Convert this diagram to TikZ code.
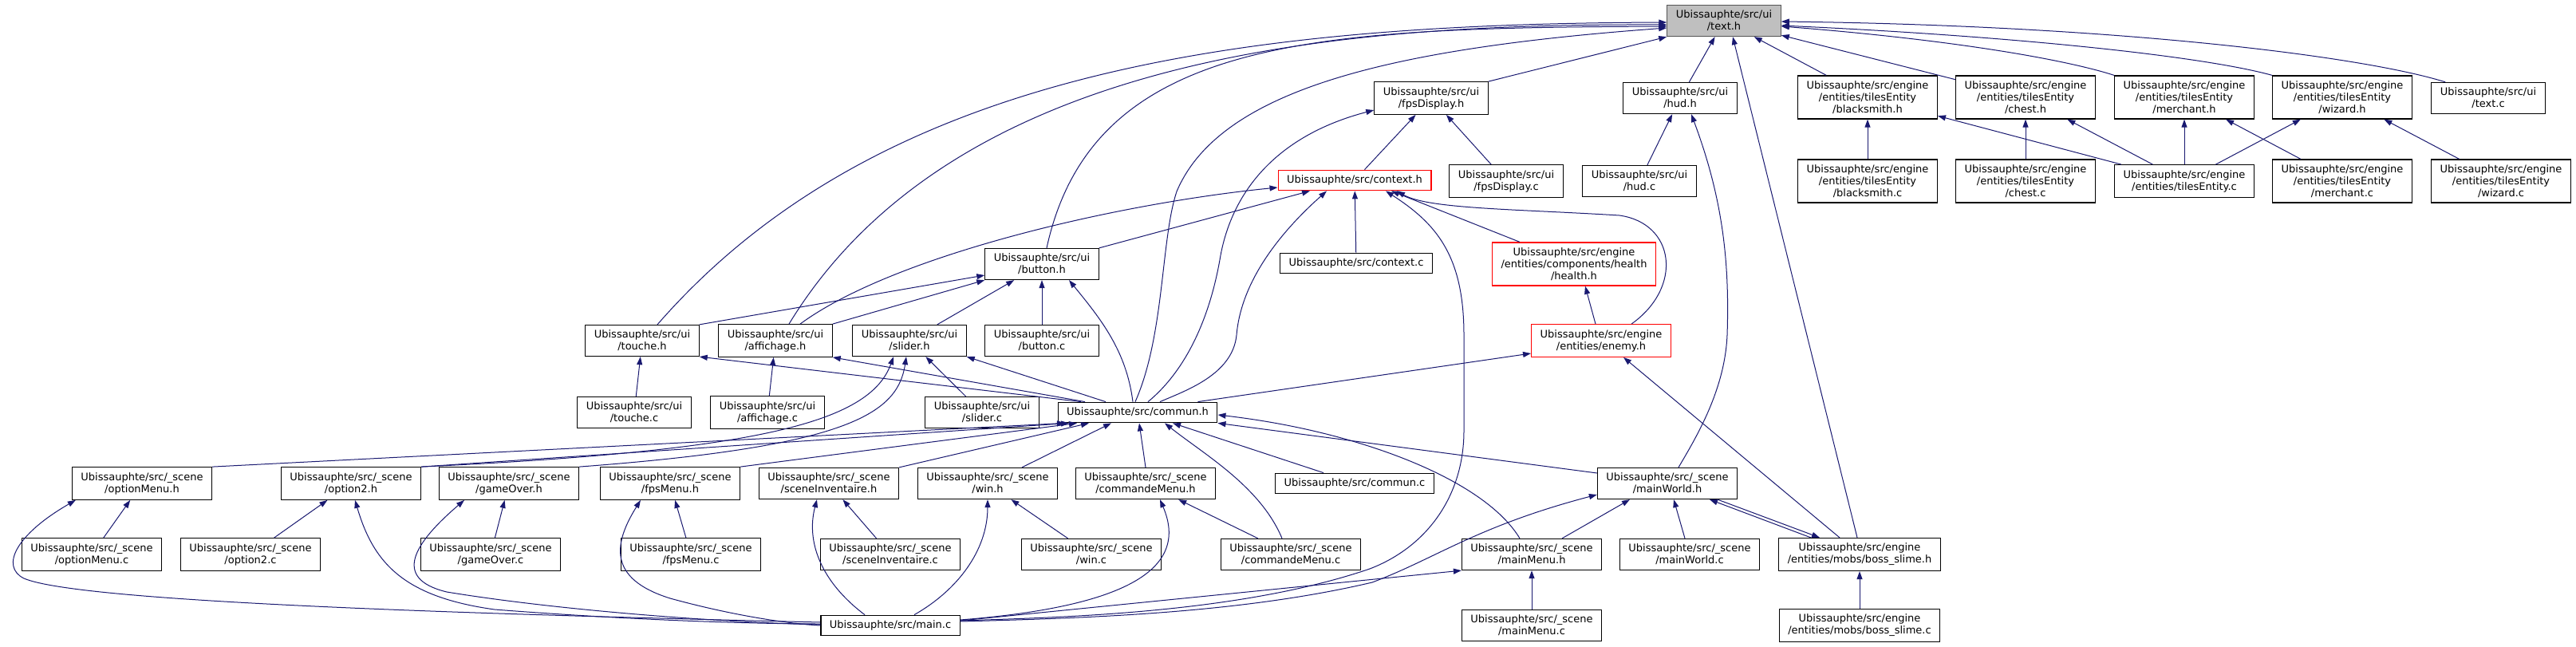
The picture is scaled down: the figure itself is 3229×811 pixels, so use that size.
\documentclass[tikz,border=0pt]{standalone}
\usepackage{fontspec}
\setmainfont{DejaVu Sans}
\usetikzlibrary{arrows.meta}
\definecolor{edgeblue}{HTML}{191970}
\definecolor{curfill}{HTML}{BFBFBF}
\definecolor{curdraw}{HTML}{555555}
\newcommand\graphfont{\fontsize{13pt}{15pt}\selectfont}
\tikzset{
  file/.style={draw=black, line width=1.2pt, fill=white, align=center,
    inner xsep=11pt, inner ysep=6.5pt, font=\graphfont},
  current/.style={file, fill=curfill, draw=curdraw},
  truncated/.style={file, draw=red},
  dep/.style={edgeblue, line width=1pt, {Triangle[length=10pt,width=7pt]}-},
}
\begin{document}
\begin{tikzpicture}[x=1pt, y=-1pt]
    \useasboundingbox (0,0) rectangle (3229,811);
    % row 0 and 1
    \node[current] (text) at (2161,26) {Ubissauphte/src/ui\\/text.h};
    \node[file] (fpsdisph) at (1794,123) {Ubissauphte/src/ui\\/fpsDisplay.h};
    \node[file] (hudh) at (2106,123) {Ubissauphte/src/ui\\/hud.h};
    \node[file] (blacksmithh) at (2341,122) {Ubissauphte/src/engine\\/entities/tilesEntity\\/blacksmith.h};
    \node[file] (chesth) at (2539,122) {Ubissauphte/src/engine\\/entities/tilesEntity\\/chest.h};
    \node[file] (merchanth) at (2738,122) {Ubissauphte/src/engine\\/entities/tilesEntity\\/merchant.h};
    \node[file] (wizardh) at (2936,122) {Ubissauphte/src/engine\\/entities/tilesEntity\\/wizard.h};
    \node[file] (textc) at (3119,123) {Ubissauphte/src/ui\\/text.c};
    % row 2
    \node[truncated] (contexth) at (1698,226) {Ubissauphte/src/context.h};
    \node[file] (fpsdispc) at (1888,227) {Ubissauphte/src/ui\\/fpsDisplay.c};
    \node[file] (hudc) at (2055,227) {Ubissauphte/src/ui\\/hud.c};
    \node[file] (blacksmithc) at (2341,227) {Ubissauphte/src/engine\\/entities/tilesEntity\\/blacksmith.c};
    \node[file] (chestc) at (2539,227) {Ubissauphte/src/engine\\/entities/tilesEntity\\/chest.c};
    \node[file] (tilesc) at (2738,227) {Ubissauphte/src/engine\\/entities/tilesEntity.c};
    \node[file] (merchantc) at (2936,227) {Ubissauphte/src/engine\\/entities/tilesEntity\\/merchant.c};
    \node[file] (wizardc) at (3135,227) {Ubissauphte/src/engine\\/entities/tilesEntity\\/wizard.c};
    % row 3 and 4
    \node[file] (buttonh) at (1306,331) {Ubissauphte/src/ui\\/button.h};
    \node[file] (contextc) at (1700,330) {Ubissauphte/src/context.c};
    \node[truncated] (healthh) at (1973,331) {Ubissauphte/src/engine\\/entities/components/health\\/health.h};
    \node[file] (toucheh) at (805,427) {Ubissauphte/src/ui\\/touche.h};
    \node[file] (affichageh) at (972,427) {Ubissauphte/src/ui\\/affichage.h};
    \node[file] (sliderh) at (1140,427) {Ubissauphte/src/ui\\/slider.h};
    \node[file] (buttonc) at (1306,427) {Ubissauphte/src/ui\\/button.c};
    \node[truncated] (enemyh) at (2007,427) {Ubissauphte/src/engine\\/entities/enemy.h};
    % row 5
    \node[file] (touchec) at (795,517) {Ubissauphte/src/ui\\/touche.c};
    \node[file] (affichagec) at (962,517) {Ubissauphte/src/ui\\/affichage.c};
    \node[file] (sliderc) at (1231,517) {Ubissauphte/src/ui\\/slider.c};
    \node[file] (communh) at (1426,517) {Ubissauphte/src/commun.h};
    % row 6
    \node[file] (optionmenuh) at (178,606) {Ubissauphte/src/\_scene\\/optionMenu.h};
    \node[file] (option2h) at (440,606) {Ubissauphte/src/\_scene\\/option2.h};
    \node[file] (gameoverh) at (638,606) {Ubissauphte/src/\_scene\\/gameOver.h};
    \node[file] (fpsmenuh) at (840,606) {Ubissauphte/src/\_scene\\/fpsMenu.h};
    \node[file] (sceneinvh) at (1039,606) {Ubissauphte/src/\_scene\\/sceneInventaire.h};
    \node[file] (winh) at (1238,606) {Ubissauphte/src/\_scene\\/win.h};
    \node[file] (commandemenuh) at (1436,606) {Ubissauphte/src/\_scene\\/commandeMenu.h};
    \node[file] (communc) at (1698,606) {Ubissauphte/src/commun.c};
    \node[file] (mainworldh) at (2090,606) {Ubissauphte/src/\_scene\\/mainWorld.h};
    % row 7
    \node[file] (optionmenuc) at (115,695) {Ubissauphte/src/\_scene\\/optionMenu.c};
    \node[file] (option2c) at (314,695) {Ubissauphte/src/\_scene\\/option2.c};
    \node[file] (gameoverc) at (615,695) {Ubissauphte/src/\_scene\\/gameOver.c};
    \node[file] (fpsmenuc) at (866,695) {Ubissauphte/src/\_scene\\/fpsMenu.c};
    \node[file] (sceneinvc) at (1116,695) {Ubissauphte/src/\_scene\\/sceneInventaire.c};
    \node[file] (winc) at (1368,695) {Ubissauphte/src/\_scene\\/win.c};
    \node[file] (commandemenuc) at (1618,695) {Ubissauphte/src/\_scene\\/commandeMenu.c};
    \node[file] (mainmenuh) at (1920,695) {Ubissauphte/src/\_scene\\/mainMenu.h};
    \node[file] (mainworldc) at (2118,695) {Ubissauphte/src/\_scene\\/mainWorld.c};
    \node[file] (bossh) at (2331,695) {Ubissauphte/src/engine\\/entities/mobs/boss\_slime.h};
    % row 8
    \node[file] (mainc) at (1116,784) {Ubissauphte/src/main.c};
    \node[file] (mainmenuc) at (1920,784) {Ubissauphte/src/\_scene\\/mainMenu.c};
    \node[file] (bossc) at (2331,784) {Ubissauphte/src/engine\\/entities/mobs/boss\_slime.c};

    % plain straight includes
    \foreach \a/\b in {text/hudh, text/blacksmithh, text/chesth, fpsdisph/contexth,
        fpsdisph/fpsdispc, hudh/hudc, blacksmithh/blacksmithc, blacksmithh/tilesc,
        chesth/chestc, chesth/tilesc, merchanth/tilesc, merchanth/merchantc,
        wizardh/tilesc, wizardh/wizardc, contexth/contextc, buttonh/sliderh,
        buttonh/buttonc, toucheh/touchec, affichageh/affichagec, sliderh/sliderc,
        optionmenuh/optionmenuc, option2h/option2c, gameoverh/gameoverc,
        fpsmenuh/fpsmenuc, sceneinvh/sceneinvc, winh/winc,
        commandemenuh/commandemenuc, mainmenuh/mainmenuc, bossh/bossc}
        \draw[dep] (\a) -- (\b);

    % text.h
    \draw[dep] (text.south west) -- (fpsdisph.north east);
    \draw[dep] ([xshift=11pt]text.south) -- ([xshift=-3pt]bossh.north);
    \draw[dep] ([yshift=-7pt]text.east) .. controls (2450,50) and (2590,75) .. (merchanth.north west);
    \draw[dep] ([yshift=-6pt]text.east) .. controls (2520,45) and (2760,70) .. (wizardh.north west);
    \draw[dep] ([yshift=-1pt]text.east) .. controls (2650,32) and (2960,70) .. ([xshift=18pt]textc.north west);
    \draw[dep] ([yshift=-2pt]text.west) .. controls (1550,30) and (1100,90) .. ([xshift=19pt]toucheh.north);
    \draw[dep] ([yshift=-5pt]text.west) .. controls (1700,30) and (1200,60) .. ([xshift=17pt]affichageh.north);
    \draw[dep] ([yshift=-7pt]text.west) .. controls (1650,35) and (1370,45) .. ([xshift=6pt]buttonh.north);
    \draw[dep] ([yshift=-9pt]text.west) .. controls (1750,60) and (1530,110) .. (1475,240)
        .. controls (1455,300) and (1460,420) .. ([xshift=-3pt]communh.north);

    % fpsDisplay.h, hud.h
    \draw[dep] ([yshift=-15pt]fpsdisph.west) .. controls (1600,170) and (1545,240) .. (1530,320)
        .. controls (1515,410) and (1480,470) .. ([xshift=13pt]communh.north);
    \draw[dep] ([xshift=14pt]hudh.south) .. controls (2160,250) and (2168,330) .. (2165,420)
        .. controls (2162,490) and (2125,550) .. ([xshift=14pt]mainworldh.north);

    % context.h
    \draw[dep] ([xshift=-56pt]contexth.south) -- (buttonh.north east);
    \draw[dep] ([xshift=46pt]contexth.south) -- ([xshift=-68pt]healthh.north);
    \draw[dep] ([yshift=-9pt]contexth.west) .. controls (1400,255) and (1120,320) .. ([xshift=31pt]affichageh.north);
    \draw[dep] ([xshift=-35pt]contexth.south) .. controls (1595,300) and (1555,360) .. (1550,420)
        .. controls (1545,470) and (1485,490) .. ([xshift=28pt]communh.north);
    \draw[dep] ([xshift=39pt]contexth.south) .. controls (1800,280) and (1835,320) .. (1835,420)
        -- (1835,540) .. controls (1835,620) and (1790,685) .. (1717,713)
        .. controls (1550,770) and (1320,774) .. ([yshift=6pt]mainc.east);
    \draw[dep] ([xshift=53pt]contexth.south) .. controls (1790,262) and (1900,262) .. (2030,270)
        .. controls (2100,280) and (2110,360) .. ([xshift=38pt]enemyh.north);

    % button.h, health.h, enemy.h
    \draw[dep] ([yshift=-14pt]buttonh.west) -- (toucheh.north east);
    \draw[dep] (buttonh.south west) -- (affichageh.north east);
    \draw[dep] ([xshift=34pt]buttonh.south) .. controls (1380,400) and (1412,440) .. ([xshift=-6pt]communh.north);
    \draw[dep] ([xshift=14pt]healthh.south) -- ([xshift=-7pt]enemyh.north);
    \draw[dep] ([yshift=-16pt]enemyh.west) -- ([xshift=-25pt]communh.north east);
    \draw[dep] ([xshift=28pt]enemyh.south) -- ([xshift=-25pt]bossh.north);

    % ui headers and slider.h
    \draw[dep] (toucheh.south east) -- ([xshift=-71pt]communh.north);
    \draw[dep] (affichageh.south east) -- ([xshift=-66pt]communh.north);
    \draw[dep] (sliderh.south east) -- ([xshift=-40pt]communh.north);
    \draw[dep] ([xshift=-20pt]sliderh.south) .. controls (1090,530) and (950,565) .. (option2h.north east);
    \draw[dep] ([xshift=-4pt]sliderh.south) .. controls (1125,520) and (1060,560) .. (gameoverh.north east);

    % commun.h
    \foreach \b/\s in {optionmenuh/-91, option2h/-86, fpsmenuh/-76, sceneinvh/-61}
        \draw[dep] ([xshift=\s pt]communh.south) -- (\b.north east);
    \draw[dep] ([xshift=-33pt]communh.south) -- ([xshift=43pt]winh.north);
    \draw[dep] ([xshift=2pt]communh.south) -- (commandemenuh.north);
    \draw[dep] ([xshift=44pt]communh.south) -- ([xshift=-39pt]communc.north);
    \draw[dep] ([xshift=34pt]communh.south) .. controls (1510,570) and (1580,610) .. ([xshift=-11pt]commandemenuc.north);
    \draw[dep] ([yshift=-3pt]communh.east) .. controls (1700,540) and (1860,600) .. ([xshift=-15pt]mainmenuh.north);
    \draw[dep] (communh.south east) -- ([yshift=13pt]mainworldh.west);

    % mainWorld.h
    \draw[dep] ([xshift=53pt]mainworldh.south) -- ([xshift=-61pt]bossh.north);
    \draw[dep] ([xshift=-50pt]bossh.north) -- ([xshift=63pt]mainworldh.south);
    \draw[dep] ([xshift=8pt]mainworldh.south) -- ([xshift=-6pt]mainworldc.north);
    \draw[dep] ([xshift=-47pt]mainworldh.south) -- ([xshift=38pt]mainmenuh.north);
    \draw[dep] ([yshift=-14pt]mainworldh.west) .. controls (1850,660) and (1800,700) .. (1720,730)
        .. controls (1550,770) and (1350,775) .. ([yshift=5pt]mainc.east);

    % into main.c
    \draw[dep] (mainmenuh.south west) -- ([yshift=6pt]mainc.east);
    \draw[dep] ([xshift=5pt]optionmenuh.south west) .. controls (20,670) and (0,710) .. (30,725)
        .. controls (100,755) and (600,770) .. ([yshift=4pt]mainc.west);
    \draw[dep] ([xshift=5pt]option2h.south) .. controls (468,705) and (505,748) .. (620,764)
        .. controls (800,778) and (950,782) .. ([yshift=2pt]mainc.west);
    \draw[dep] ([xshift=-56pt]gameoverh.south) .. controls (520,680) and (490,725) .. (560,742)
        .. controls (700,765) and (900,780) .. ([yshift=1pt]mainc.west);
    \draw[dep] ([xshift=-37pt]fpsmenuh.south) .. controls (770,680) and (760,725) .. (840,750)
        .. controls (920,772) and (990,782) .. (mainc.west);
    \draw[dep] ([xshift=-15pt]sceneinvh.south) .. controls (1010,680) and (1030,730) .. ([xshift=-32pt]mainc.north);
    \draw[dep] (winh.south) .. controls (1238,690) and (1200,740) .. ([xshift=30pt]mainc.north);
    \draw[dep] ([xshift=18pt]commandemenuh.south) .. controls (1490,710) and (1420,760) .. ([yshift=7pt]mainc.east);
\end{tikzpicture}
\end{document}
